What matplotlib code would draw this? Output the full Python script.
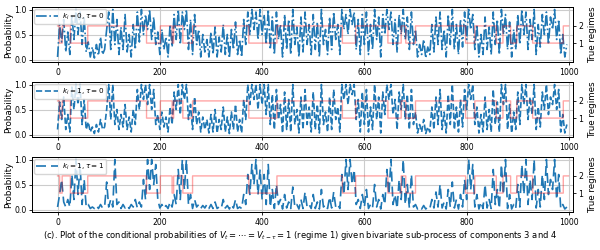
import numpy as np
import matplotlib
matplotlib.use("Agg")
import matplotlib.pyplot as plt

# ---- data -------------------------------------------------------------
step = 4

prob_k0_tau0 = [
    0.05, 0.7, 0.35, 0.8, 0.15, 0.55, 0.1, 0.9, 0.4, 1.0, 0.5, 0.95, 0.3, 0.85, 0.15, 0.35, 0.05, 0.25, 0.03, 0.3, 0.08, 0.45, 0.1, 0.2, 0.6,
    0.95, 0.2, 1.0, 0.3, 0.8, 0.1, 0.65, 0.2, 0.9, 0.15, 0.5, 0.05, 0.7, 0.2, 0.95, 0.35, 1.0, 0.5, 0.9, 0.6, 1.0, 0.4, 0.85, 0.3, 0.55,
    0.1, 0.6, 0.2, 0.45, 0.05, 0.7, 0.25, 0.9, 0.4, 1.0, 0.3, 0.95, 0.6, 1.0, 0.2, 0.8, 0.1, 0.9, 0.3, 0.6, 0.05, 0.5, 0.15, 0.4, 0.05,
    0.55, 0.1, 0.65, 0.05, 0.45, 0.15, 0.7, 0.1, 0.5, 0.03, 0.6, 0.2, 0.75, 0.1, 0.4, 0.05, 0.8, 0.3, 0.95, 0.5, 1.0, 0.6, 0.95, 0.4, 1.0,
    0.5, 0.9, 0.3, 1.0, 0.2, 0.85, 0.1, 0.95, 0.4, 0.7, 0.05, 0.9, 0.2, 0.8, 0.1, 1.0, 0.3, 0.65, 0.05, 0.85, 0.15, 0.95, 0.3, 0.7, 0.1,
    0.9, 0.2, 0.75, 0.05, 1.0, 0.3, 0.6, 0.1, 0.85, 0.2, 0.95, 0.4, 0.7, 0.1, 1.0, 0.6, 0.9, 0.5, 1.0, 0.7, 0.95, 0.2, 0.8, 0.1, 0.9,
    0.3, 0.95, 0.1, 0.7, 0.2, 1.0, 0.4, 0.85, 0.05, 0.9, 0.5, 1.0, 0.6, 0.95, 0.3, 0.8, 0.15, 0.9, 0.5, 1.0, 0.4, 0.85, 0.2, 0.95, 0.3,
    0.6, 0.05, 0.3, 0.1, 0.4, 0.03, 0.25, 0.1, 0.7, 0.15, 0.85, 0.3, 0.95, 0.2, 0.6, 0.05, 0.9, 0.3, 1.0, 0.2, 0.7, 0.1, 0.8, 0.25, 0.95,
    0.4, 1.0, 0.6, 0.9, 0.2, 0.7, 0.05, 0.5, 0.1, 0.85, 0.2, 0.65, 0.1, 0.95, 0.3, 0.8, 0.1, 1.0, 0.5, 0.9, 0.2, 0.75, 0.05, 0.6, 0.2,
    0.9, 0.3, 1.0, 0.5, 0.95, 0.2, 0.8, 0.4, 1.0, 0.1, 0.7, 0.25, 0.9, 0.5, 0.95, 0.3, 0.85, 0.6, 1.0, 0.4, 0.8, 0.1, 0.5, 0.05, 0.3,
]

prob_k1_tau0 = [
    0.1, 0.65, 0.3, 0.75, 0.1, 0.4, 0.05, 0.95, 0.5, 1.0, 0.6, 1.0, 0.2, 0.7, 0.1, 0.25, 0.05, 0.15, 0.02, 0.2, 0.05, 0.3, 0.1, 0.15, 0.5,
    1.0, 0.3, 1.0, 0.2, 0.5, 0.1, 0.4, 0.15, 0.6, 0.1, 0.35, 0.05, 0.5, 0.2, 0.9, 0.5, 1.0, 0.7, 1.0, 0.6, 1.0, 0.5, 0.9, 0.2, 0.4,
    0.1, 0.45, 0.15, 0.35, 0.05, 0.55, 0.2, 0.85, 0.5, 1.0, 0.4, 1.0, 0.7, 1.0, 0.3, 0.6, 0.1, 0.75, 0.2, 0.45, 0.05, 0.35, 0.1, 0.3, 0.03,
    0.4, 0.05, 0.5, 0.03, 0.3, 0.1, 0.55, 0.05, 0.35, 0.02, 0.45, 0.1, 0.6, 0.05, 0.3, 0.03, 0.7, 0.3, 1.0, 0.6, 1.0, 0.7, 1.0, 0.5, 1.0,
    0.6, 1.0, 0.4, 1.0, 0.2, 0.8, 0.1, 0.9, 0.3, 0.6, 0.03, 0.85, 0.1, 0.7, 0.05, 1.0, 0.2, 0.5, 0.03, 0.75, 0.1, 0.9, 0.2, 0.55, 0.05,
    0.85, 0.1, 0.6, 0.03, 1.0, 0.2, 0.45, 0.05, 0.75, 0.1, 0.9, 0.3, 0.55, 0.05, 1.0, 0.7, 1.0, 0.6, 1.0, 0.8, 1.0, 0.3, 0.7, 0.05, 0.85,
    0.2, 0.9, 0.05, 0.55, 0.1, 1.0, 0.3, 0.75, 0.03, 0.85, 0.4, 1.0, 0.7, 1.0, 0.4, 0.7, 0.1, 0.85, 0.5, 1.0, 0.3, 0.8, 0.1, 0.9, 0.2,
    0.45, 0.03, 0.2, 0.05, 0.3, 0.02, 0.15, 0.05, 0.55, 0.1, 0.75, 0.2, 0.9, 0.1, 0.45, 0.03, 0.8, 0.2, 1.0, 0.1, 0.55, 0.05, 0.7, 0.15, 0.9,
    0.5, 1.0, 0.7, 1.0, 0.2, 0.55, 0.03, 0.4, 0.05, 0.75, 0.1, 0.5, 0.05, 0.9, 0.2, 0.65, 0.05, 1.0, 0.6, 1.0, 0.1, 0.6, 0.03, 0.45, 0.1,
    0.85, 0.2, 1.0, 0.6, 1.0, 0.3, 0.75, 0.4, 1.0, 0.1, 0.55, 0.15, 0.85, 0.5, 1.0, 0.4, 0.75, 0.6, 1.0, 0.5, 0.9, 0.05, 0.4, 0.03, 0.2,
]

prob_k1_tau1 = [
    0.05, 0.3, 0.6, 0.15, 0.05, 0.2, 0.05, 0.7, 0.2, 1.0, 0.3, 0.9, 0.1, 0.6, 0.05, 0.1, 0.02, 0.05, 0.02, 0.08, 0.02, 0.1, 0.03, 0.05, 0.55,
    0.05, 0.2, 0.05, 1.0, 0.1, 0.15, 0.02, 0.1, 0.03, 0.08, 0.02, 0.1, 0.05, 0.2, 0.03, 0.15, 0.05, 0.6, 0.2, 1.0, 0.4, 1.0, 0.5, 0.9, 0.2,
    0.03, 0.1, 0.02, 0.08, 0.02, 0.15, 0.05, 0.3, 0.1, 0.8, 0.2, 1.0, 0.4, 1.0, 0.1, 0.3, 0.02, 0.2, 0.05, 0.1, 0.02, 0.08, 0.03, 0.1, 0.02,
    0.1, 0.02, 0.15, 0.02, 0.05, 0.02, 0.2, 0.03, 0.08, 0.01, 0.1, 0.03, 0.2, 0.02, 0.05, 0.02, 0.3, 0.1, 0.7, 0.3, 0.9, 0.5, 1.0, 0.3, 0.8,
    0.2, 0.7, 0.1, 0.9, 0.05, 0.4, 0.02, 0.5, 0.1, 0.2, 0.01, 0.3, 0.03, 0.15, 0.02, 0.45, 0.05, 0.1, 0.01, 0.2, 0.02, 0.35, 0.05, 0.1, 0.02,
    0.3, 0.02, 0.15, 0.01, 0.4, 0.05, 0.1, 0.02, 0.25, 0.03, 0.35, 0.05, 0.1, 0.02, 0.7, 0.3, 1.0, 0.4, 1.0, 0.5, 0.8, 0.1, 0.2, 0.02, 0.3,
    0.05, 0.4, 0.02, 0.1, 0.03, 0.5, 0.05, 0.2, 0.01, 0.3, 0.1, 0.8, 0.3, 1.0, 0.1, 0.3, 0.02, 0.6, 0.2, 1.0, 0.1, 0.5, 0.03, 0.7, 0.05,
    0.1, 0.01, 0.05, 0.01, 0.08, 0.01, 0.05, 0.02, 0.2, 0.03, 0.35, 0.05, 0.5, 0.03, 0.15, 0.01, 0.4, 0.05, 0.55, 0.03, 0.2, 0.01, 0.3, 0.05, 0.6,
    0.2, 1.0, 0.4, 0.9, 0.05, 0.3, 0.01, 0.15, 0.02, 0.5, 0.03, 0.2, 0.02, 0.8, 0.1, 0.4, 0.02, 0.9, 0.3, 1.0, 0.02, 0.3, 0.01, 0.1, 0.02,
    0.5, 0.05, 0.9, 0.3, 1.0, 0.1, 0.6, 0.2, 1.0, 0.03, 0.4, 0.05, 0.7, 0.2, 1.0, 0.3, 0.6, 0.4, 1.0, 0.2, 0.7, 0.02, 0.1, 0.01, 0.05,
]

# true regimes: start time of each run and its regime
regime_starts = [0, 4, 9, 25, 59, 174, 201, 224, 227, 245, 264, 374, 429, 557, 583,
                 646, 672, 681, 700, 798, 816, 858, 871, 886, 898, 929, 989]
regime_values = [2, 1, 2, 1, 2, 1, 2, 1, 2, 1, 2, 1, 2, 1, 2,
                 1, 2, 1, 2, 1, 2, 1, 2, 1, 2, 1, 2]
n_time = 1000

labels = [r"$k_i = 0, \tau = 0$", r"$k_i = 1, \tau = 0$", r"$k_i = 1, \tau = 1$"]
caption = (r"(c). Plot of the conditional probabilities of $V_t = \cdots = V_{t-\tau} = 1$"
           r" (regime 1) given bivariate sub-process of components 3 and 4")

# ---- figure -----------------------------------------------------------
series = [prob_k0_tau0, prob_k1_tau0, prob_k1_tau1]
styles = ["-.", "--", (0, (6, 3))]

t_reg = np.arange(n_time)
regime = np.repeat(regime_values, np.diff(regime_starts + [n_time]))

fig = plt.figure(figsize=(6, 2.5), dpi=100)
left, width = 32 / 600, (573 - 32) / 600
tops = [7, 82, 157]
h = 55
for i, (y, ls, lab) in enumerate(zip(series, styles, labels)):
    t_prob = np.arange(len(y)) * step
    ax = fig.add_axes([left, 1 - (tops[i] + h) / 250, width, h / 250])
    ax.plot(t_prob, y, color="tab:blue", linestyle=ls, linewidth=1.2, label=lab)
    ax.set_xlim(-50, 1008)
    ax.set_ylim(-0.05, 1.05)
    ax.set_yticks([0.0, 0.5, 1.0])
    ax.set_xticks([0, 200, 400, 600, 800, 1000])
    ax.grid(True, color="#cccccc", linewidth=0.8)
    ax.set_axisbelow(True)
    ax.tick_params(labelsize=5.6, length=2.5, pad=1.5, width=0.6)
    ax.set_ylabel("Probability", fontsize=6.3, labelpad=1)
    for s in ax.spines.values():
        s.set_linewidth(0.7)
    ax.legend(loc="upper left", fontsize=5.2, handlelength=3, borderpad=0.3,
              labelspacing=0.2, handletextpad=0.5, borderaxespad=0.3, framealpha=0.8)
    ax2 = ax.twinx()
    ax2.step(t_reg, regime, where="post", color="red", alpha=0.35, linewidth=1.0)
    ax2.set_ylim(-0.1, 3.1)
    ax2.set_yticks([1, 2])
    ax2.tick_params(labelsize=5.6, length=2.5, pad=1.5, width=0.6)
    ax2.set_ylabel("True regimes", fontsize=6.3, labelpad=3)
    for s in ax2.spines.values():
        s.set_linewidth(0.7)

fig.text(0.5, 1 - 236 / 250, caption, ha="center", va="center", fontsize=6.0)
fig.savefig("out.png", dpi=100)
